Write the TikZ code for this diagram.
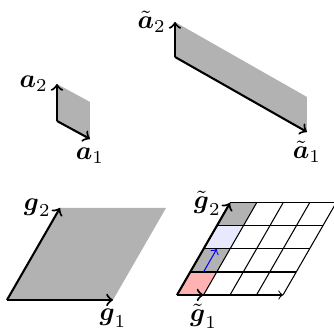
\documentclass[tikz,border=0pt]{standalone}
\usepackage{amsmath}
\usetikzlibrary{calc}

\begin{document}
\begin{tikzpicture}[x=0.715cm, y=0.715cm,
    vec/.style={->, thick},
    gridline/.style={thin},
    area/.style={fill=gray!60}]

    \useasboundingbox (0,0) rectangle (6.302,6.245);

    % Small cell
    \coordinate (o) at (1.075,3.962);
    \coordinate (a1) at (1.698,3.623);
    \coordinate (a2) at (1.075,4.660);
    \fill[area] (o) -- (a1) -- ($(a1)+(a2)-(o)$) -- (a2) -- cycle;
    \draw[vec] (o) -- (a1);
    \draw[vec] (o) -- (a2);
    \node[below] (a1lab) at (a1) {$\boldsymbol{a}_1$};
    \node[left] (a2lab) at (a2) {$\boldsymbol{a}_2$};

    % Stretched cell
    \coordinate (ot) at (3.302,5.170);
    \coordinate (at1) at (5.792,3.755);
    \coordinate (at2) at (3.302,5.830);
    \fill[area] (ot) -- (at1) -- ($(at1)+(at2)-(ot)$) -- (at2) -- cycle;
    \draw[vec] (ot) -- (at1);
    \draw[vec] (ot) -- (at2);
    \node[below] (at1lab) at (at1) {$\tilde{\boldsymbol{a}}_1$};
    \node[left] (at2lab) at (at2) {$\tilde{\boldsymbol{a}}_2$};

    % Rhombus
    \coordinate (og) at (0.132,0.585);
    \coordinate (g1) at (2.132,0.585);
    \coordinate (g2) at (1.132,2.321);
    \fill[area] (og) -- (g1) -- ($(g1)+(g2)-(og)$) -- (g2) -- cycle;
    \draw[vec] (og) -- (g1);
    \draw[vec] (og) -- (g2);
    \node[below] (g1lab) at (g1) {$\boldsymbol{g}_1$};
    \node[left] (g2lab) at (g2) {$\boldsymbol{g}_2$};

    % Subdivided rhombus
    \coordinate (os) at (3.340,0.679);
    \coordinate (gt1) at (3.840,0.679);
    \coordinate (gt2) at (4.340,2.415);
    \coordinate (gend) at (5.340,0.679);
    \foreach \r/\c in {0/red!30, 1/gray!60, 2/blue!9, 3/gray!60}
        \fill[\c] ($(os)+\r*(0.25,0.434)$) -- ++(0.5,0) -- ++(0.25,0.434) -- ++(-0.5,0) -- cycle;
    \foreach \i in {1,...,4}
        \draw[gridline] ($(os)+\i*(0.25,0.434)$) -- ++(2,0);
    \foreach \j in {0,...,4}
        \draw[gridline] ($(os)+\j*(0.5,0)$) -- ++(1,1.736);
    \draw[gridline, ->] (os) -- (gend);
    \coordinate (bs) at ($(os)+(0.5,0.434)$);
    \coordinate (be) at ($(bs)+(0.25,0.434)$);
    \draw[->, blue] (bs) -- (be);
    \draw[vec] (os) -- (gt1);
    \draw[vec] (os) -- (gt2);
    \node[below] (gt1lab) at (gt1) {$\tilde{\boldsymbol{g}}_1$};
    \node[left] (gt2lab) at (gt2) {$\tilde{\boldsymbol{g}}_2$};

\end{tikzpicture}
\end{document}
